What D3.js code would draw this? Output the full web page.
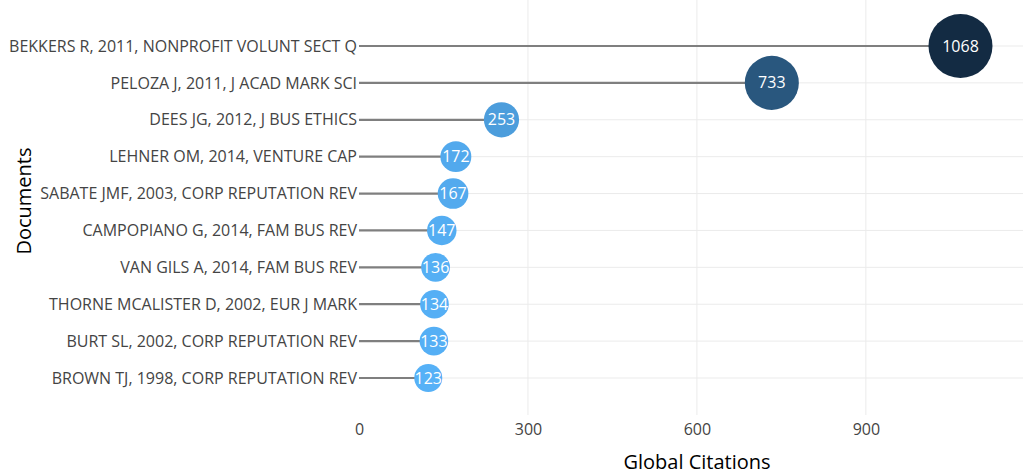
<!DOCTYPE html>
<html>
<head>
<meta charset="utf-8">
<script src="https://cdn.jsdelivr.net/npm/d3@7"></script>
<style>
  body { margin: 0; background: #fff; }
  text { font-family: "Open Sans", sans-serif; }
</style>
</head>
<body>
<div id="container"></div>
<script>
const documents = [
  "BEKKERS R, 2011, NONPROFIT VOLUNT SECT Q",
  "PELOZA J, 2011, J ACAD MARK SCI",
  "DEES JG, 2012, J BUS ETHICS",
  "LEHNER OM, 2014, VENTURE CAP",
  "SABATE JMF, 2003, CORP REPUTATION REV",
  "CAMPOPIANO G, 2014, FAM BUS REV",
  "VAN GILS A, 2014, FAM BUS REV",
  "THORNE MCALISTER D, 2002, EUR J MARK",
  "BURT SL, 2002, CORP REPUTATION REV",
  "BROWN TJ, 1998, CORP REPUTATION REV"
];
const citations = [1068, 733, 253, 172, 167, 147, 136, 134, 133, 123];
const xTicks = [0, 300, 600, 900];

const w = 1023;
const h = 475;
const plotLeft = 359;
const plotRight = 1023;
const plotTop = 0;
const plotBottom = 415;

const svg = d3.select("#container")
  .append("svg")
  .attr("width", w)
  .attr("height", h);

const xScale = d3.scaleLinear()
  .domain([0, 1179])
  .range([plotLeft, plotRight]);

const yScale = d3.scalePoint()
  .domain(documents)
  .range([46, 378]);

const rScale = d3.scaleRadial()
  .domain([d3.min(citations), d3.max(citations)])
  .range([14, 32]);

const colorScale = d3.scaleLinear()
  .domain([d3.min(citations), d3.max(citations)])
  .range(["#56B1F7", "#132B43"])
  .interpolate(d3.interpolateLab);

// grid
svg.append("g")
  .selectAll("line")
  .data(documents)
  .enter()
  .append("line")
  .attr("x1", plotLeft)
  .attr("x2", plotRight)
  .attr("y1", d => yScale(d))
  .attr("y2", d => yScale(d))
  .attr("stroke", "#ebebeb")
  .attr("stroke-width", 1);

svg.append("g")
  .selectAll("line")
  .data(xTicks.filter(t => t > 0))
  .enter()
  .append("line")
  .attr("x1", d => xScale(d))
  .attr("x2", d => xScale(d))
  .attr("y1", plotTop)
  .attr("y2", plotBottom)
  .attr("stroke", "#ebebeb")
  .attr("stroke-width", 1);

// x axis
const xAxis = d3.axisBottom(xScale)
  .tickValues(xTicks)
  .tickSize(0)
  .tickPadding(9);

const gx = svg.append("g")
  .attr("transform", `translate(0, ${plotBottom})`)
  .call(xAxis);
gx.select(".domain").remove();
gx.selectAll("text")
  .attr("fill", "#444")
  .style("font-size", "16px");

// y axis
const yAxis = d3.axisLeft(yScale)
  .tickSize(0)
  .tickPadding(2);

const gy = svg.append("g")
  .attr("transform", `translate(${plotLeft}, 0)`)
  .call(yAxis);
gy.select(".domain").remove();
gy.selectAll("text")
  .attr("fill", "#444")
  .style("font-size", "16px");

// titles
svg.append("text")
  .text("Global Citations")
  .attr("x", 697)
  .attr("y", 469)
  .attr("fill", "#000")
  .style("text-anchor", "middle")
  .style("font-size", "20px");

svg.append("text")
  .text("Documents")
  .attr("transform", `translate(31, ${201})rotate(-90)`)
  .attr("fill", "#000")
  .style("text-anchor", "middle")
  .style("font-size", "20px");

// lollipops
const rows = documents.map((d, i) => ({ doc: d, val: citations[i] }));

svg.append("g")
  .selectAll("line")
  .data(rows)
  .enter()
  .append("line")
  .attr("x1", xScale(0))
  .attr("x2", d => xScale(d.val))
  .attr("y1", d => yScale(d.doc))
  .attr("y2", d => yScale(d.doc))
  .attr("stroke", "#7f7f7f")
  .attr("stroke-width", 2.2);

svg.append("g")
  .selectAll("circle")
  .data(rows)
  .enter()
  .append("circle")
  .attr("cx", d => xScale(d.val))
  .attr("cy", d => yScale(d.doc))
  .attr("r", d => rScale(d.val))
  .attr("fill", d => colorScale(d.val));

svg.append("g")
  .selectAll("text")
  .data(rows)
  .enter()
  .append("text")
  .text(d => d.val)
  .attr("x", d => xScale(d.val))
  .attr("y", d => yScale(d.doc))
  .attr("dy", "0.35em")
  .attr("fill", "#fff")
  .style("text-anchor", "middle")
  .style("font-size", "16px");
</script>
</body>
</html>
